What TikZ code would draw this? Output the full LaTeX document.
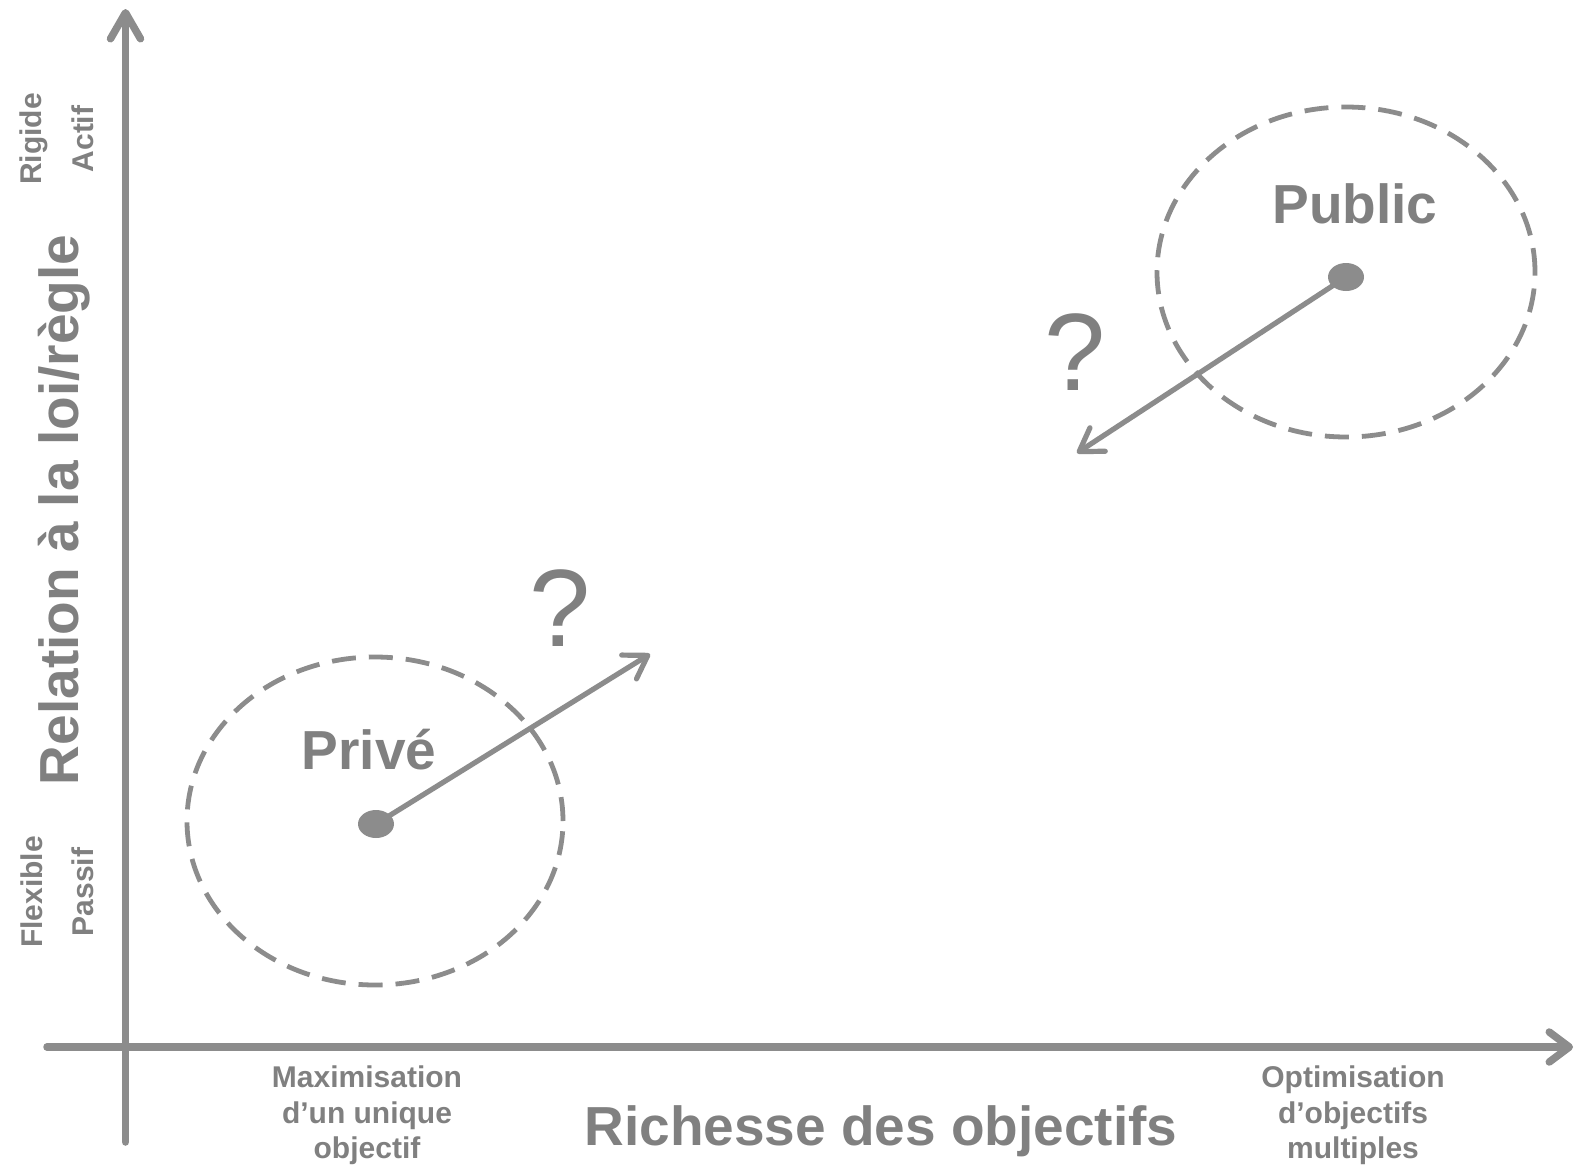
\documentclass[tikz,border=0pt]{standalone}
\usepackage{fontspec}
\setmainfont{Liberation Sans}
\usetikzlibrary{arrows.meta,shapes.geometric}
\definecolor{linegray}{RGB}{140,140,140}
\definecolor{textgray}{RGB}{128,128,128}
\begin{document}
\begin{tikzpicture}[x=1pt,y=-1pt,
  axisline/.style={draw=linegray,line width=7.5pt,line cap=round},
  ring/.style={draw=linegray,line width=4.8pt,ellipse,inner sep=0pt,dash pattern=on 24pt off 13pt},
  dotmark/.style={fill=linegray,ellipse,inner sep=0pt,minimum width=36pt,minimum height=28pt},
  moveline/.style={draw=linegray,line width=5.2pt,line cap=round,
    -{Straight Barb[length=22pt,width=28pt,line cap=round,line join=round]}},
  bigtext/.style={text=textgray,inner sep=0pt,font=\fontsize{55}{60}\selectfont\bfseries},
  sidetext/.style={text=textgray,inner sep=0pt,font=\fontsize{30}{34}\selectfont\bfseries},
  ticktext/.style={text=textgray,inner sep=0pt,align=center,font=\fontsize{30}{35.3}\selectfont\bfseries},
  qmark/.style={text=textgray,inner sep=0pt,font=\fontsize{110}{120}\selectfont},
]
\useasboundingbox (0,0) rectangle (1575,1165);
\fill[white] (0,0) rectangle (1575,1165);

% axes
\coordinate (ybot) at (125.5,1142);
\coordinate (ytop) at (125.5,9);
\coordinate (xleft) at (47,1047);
\coordinate (xright) at (1573,1047);
\draw[axisline,-{Straight Barb[length=26pt,width=30pt,line cap=round,line join=round]}] (ybot) -- (ytop);
\draw[axisline,-{Straight Barb[length=20pt,width=30pt,line cap=round,line join=round]}] (xleft) -- (xright);

% axis labels
\node[bigtext,rotate=90,anchor=base] (ylab) at (78,510) {Relation à la loi/règle};
\node[sidetext,rotate=90,anchor=base] (rigide) at (41,139) {Rigide};
\node[sidetext,rotate=90,anchor=base] (actif) at (93,139) {Actif};
\node[sidetext,rotate=90,anchor=base] (flexible) at (42,892) {Flexible};
\node[sidetext,rotate=90,anchor=base] (passif) at (93,892) {Passif};

\node[bigtext,anchor=base] (xlab) at (881,1145) {Richesse des objectifs};
\node[ticktext,anchor=north] (maxi) at (367,1066) {Maximisation\\d’un unique\\objectif};
\node[ticktext,anchor=north] (opti) at (1353,1066) {Optimisation\\d’objectifs\\multiples};

% regions
\node[ring,minimum width=376pt,minimum height=328pt] (prive) at (375,821) {};
\node[ring,minimum width=378pt,minimum height=330pt] (public) at (1346,272) {};

\node[bigtext,anchor=base] (privelab) at (369,769) {Privé};
\node[bigtext,anchor=base] (publiclab) at (1355,223) {Public};

% dots and moves
\node[dotmark] (pdot) at (376,824) {};
\node[dotmark] (udot) at (1346,277) {};
\coordinate (pend) at (650,654);
\coordinate (uend) at (1077,453);
\draw[moveline] (pdot.center) -- (pend);
\draw[moveline] (udot.center) -- (uend);

\node[qmark,anchor=base] (q1) at (560,646) {?};
\node[qmark,anchor=base] (q2) at (1075,390) {?};
\end{tikzpicture}
\end{document}
